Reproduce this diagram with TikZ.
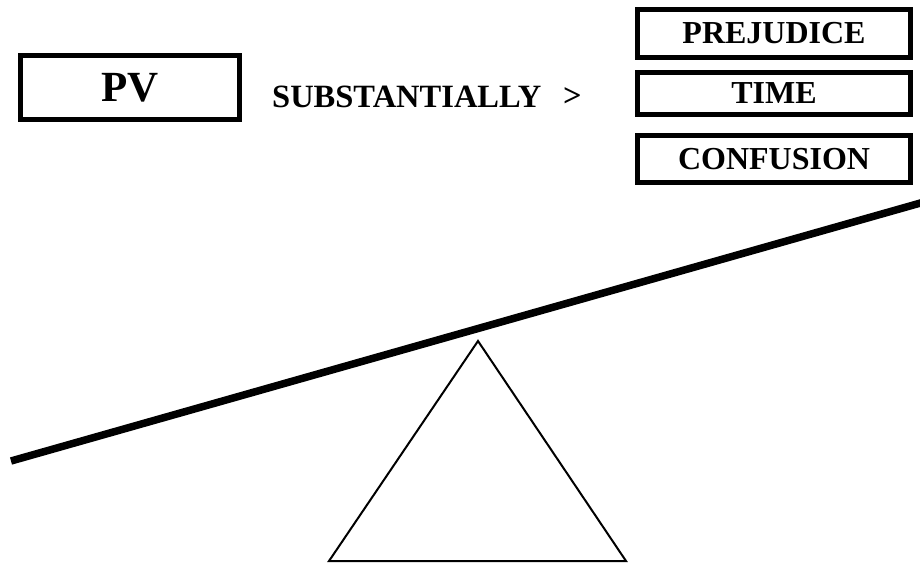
\documentclass[tikz,border=0pt]{standalone}
\usepackage{fontspec}
\setmainfont{Liberation Serif}

\tikzset{
  weight/.style={draw, line width=5pt, inner sep=0pt, font=\bfseries\fontsize{32}{32}\selectfont,
    minimum width=273pt},
  word/.style={inner sep=0pt, font=\bfseries\fontsize{32.5}{32.5}\selectfont},
}

\begin{document}
\begin{tikzpicture}[x=1pt, y=-1pt]
  \useasboundingbox (0,0) rectangle (920,563);

  \node [weight, minimum width=219pt, minimum height=64pt,
    font=\bfseries\fontsize{43}{43}\selectfont] (pv) at (130,87.5) {PV};
  \node [word, anchor=base west] (subst) at (272,107) {SUBSTANTIALLY};
  \node [word, anchor=base west] (gt) at (563,106) {>};

  \node [weight, minimum height=48pt] (prej) at (774,33.5) {PREJUDICE};
  \node [weight, minimum height=42pt] (time) at (774,93.5) {TIME};
  \node [weight, minimum height=47pt] (conf) at (774,159) {CONFUSION};

  % seesaw
  \coordinate (beamL) at (11,461);
  \coordinate (beamR) at (924,202);
  \coordinate (apex) at (478,341);
  \coordinate (baseL) at (329,561);
  \coordinate (baseR) at (626,561);

  \draw [line width=7.5pt] (beamL) -- (beamR);
  \draw [line width=2pt, line join=miter] (apex) -- (baseL) -- (baseR) -- cycle;
\end{tikzpicture}
\end{document}
